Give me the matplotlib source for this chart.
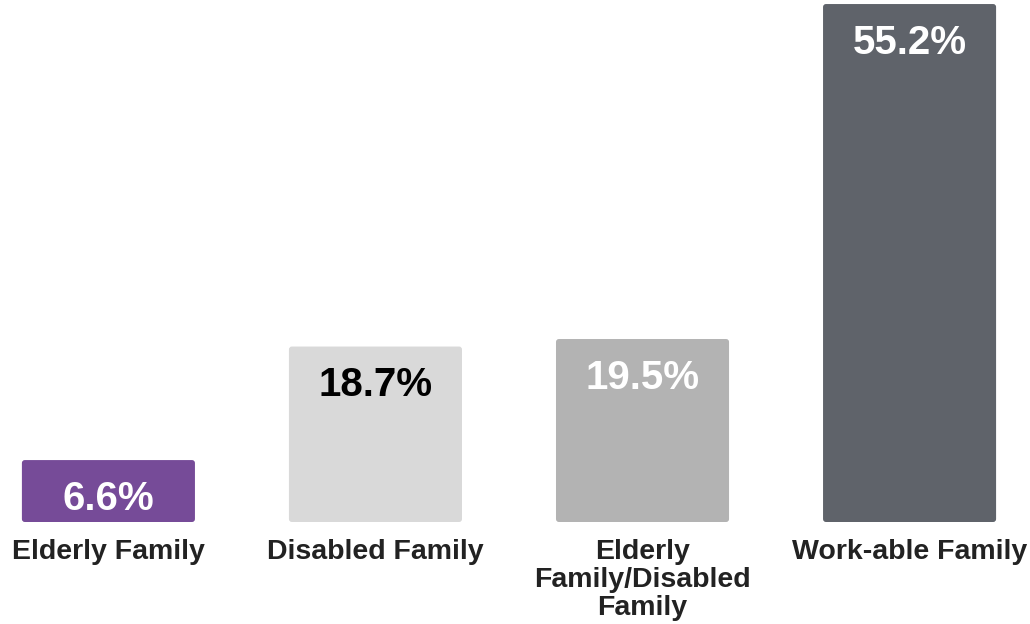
import matplotlib.pyplot as plt
from matplotlib.patches import FancyBboxPatch

categories = ["Elderly Family", "Disabled Family", "Elderly\nFamily/Disabled\nFamily", "Work-able Family"]
values = [6.6, 18.7, 19.5, 55.2]
labels = ["6.6%", "18.7%", "19.5%", "55.2%"]
bar_colors = ["#764b98", "#d9d9d9", "#b3b3b3", "#5f636a"]
text_colors = ["white", "black", "white", "white"]

plt.rcParams['font.family'] = ['Liberation Sans', 'DejaVu Sans']

fig = plt.figure(figsize=(10.3, 6.24), dpi=100)
ax = fig.add_axes([0, 0, 1, 1])
ax.set_xlim(-0.406, 3.451)
ax.set_ylim(-10.87, 55.63)
ax.axis('off')

x = list(range(len(categories)))
bars = ax.bar(x, values, width=0.648, color=bar_colors)

# swap bars for slightly rounded ones
px_x = 267.0
px_y = 9.384
for b in bars:
    fb = FancyBboxPatch((b.get_x(), b.get_y()), b.get_width(), b.get_height(),
                        boxstyle="round,pad=0,rounding_size=0.011",
                        mutation_aspect=px_x / px_y,
                        facecolor=b.get_facecolor(), edgecolor='none')
    b.remove()
    ax.add_patch(fb)

for xi, v, lab, tc in zip(x, values, labels, text_colors):
    ax.annotate(lab, (xi, v), xytext=(0, -28), textcoords='offset points',
                ha='center', va='center', fontsize=29, fontweight='bold', color=tc)

for xi, cat in zip(x, categories):
    ax.annotate(cat, (xi, 0), xytext=(0, -12), textcoords='offset points',
                ha='center', va='top', fontsize=20.5, fontweight='bold',
                color='#222222', linespacing=1.12)

plt.savefig("out.png", dpi=100)
